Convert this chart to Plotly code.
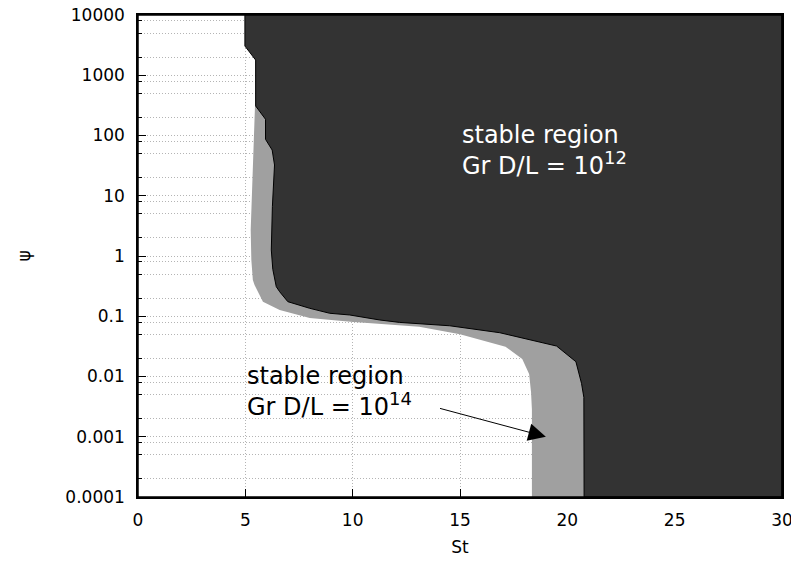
import math
import plotly.graph_objects as go

# Boundary of the stable region for Gr D/L = 1e12 (dark)
dark_st = [4.98, 4.98, 5.48, 5.48, 5.94, 5.94, 6.25, 6.36, 6.26, 6.21, 6.28, 6.44, 6.6, 6.98,
           8.0, 8.93, 9.86, 11.26, 12.19, 14.52, 16.85, 19.5, 20.4, 20.66, 20.77, 20.78, 30, 30]
dark_psi = [10000, 3055, 1790, 309, 186, 86.5, 57.4, 32.4, 6.6, 1.26, 0.6, 0.31, 0.255, 0.1745,
            0.1355, 0.112, 0.105, 0.0867, 0.079, 0.0695, 0.0533, 0.032, 0.0176, 0.0077, 0.0045, 0.0001, 0.0001, 10000]

# Boundary of the stable region for Gr D/L = 1e14 (grey)
gray_st = [5.45, 5.38, 5.30, 5.25, 5.28, 5.35, 5.43, 5.82, 6.6, 7.06, 8.0, 9.9, 12.19, 13.1, 15.0,
           17.12, 17.9, 18.22, 18.31, 18.35, 18.35, 30, 30]
gray_psi = [309, 57.4, 8.5, 2.7, 0.86, 0.40, 0.33, 0.174, 0.127, 0.115, 0.0935, 0.081, 0.0715, 0.067, 0.0505,
            0.0313, 0.0195, 0.011, 0.0055, 0.0028, 0.0001, 0.0001, 309]

x_ticks = [0, 5, 10, 15, 20, 25, 30]
y_ticks = [1e-4, 1e-3, 1e-2, 1e-1, 1, 10, 100, 1000, 10000]
y_tick_labels = ["0.0001", "0.001", "0.01", "0.1", "1", "10", "100", "1000", "10000"]
y_minor = [m * 10.0 ** e for e in range(-4, 4) for m in (2, 5, 8)]

FONT = "DejaVu Sans"
GRID = "#b4b4b4"
DASH = "1px,2px"
SUP = "<sup><span style='font-size:18px'>{}</span></sup>"

fig = go.Figure()
fig.add_trace(go.Scatter(x=gray_st, y=gray_psi, mode="lines", fill="toself",
                         fillcolor="#a0a0a0", line=dict(width=0, color="#a0a0a0"),
                         hoverinfo="skip", showlegend=False))
fig.add_trace(go.Scatter(x=dark_st, y=dark_psi, mode="lines", fill="toself",
                         fillcolor="#333333", line=dict(width=1, color="black"),
                         hoverinfo="skip", showlegend=False))

fig.add_annotation(x=15, y=math.log10(57), xref="x", yref="y", xanchor="left", yanchor="middle",
                   text="stable region<br>Gr D/L = 10" + SUP.format("12"), showarrow=False, align="left",
                   font=dict(family=FONT, size=24, color="white"))
fig.add_annotation(x=4.97, y=-2.257, xref="x", yref="y", xanchor="left", yanchor="middle",
                   text="stable region<br>Gr D/L = 10" + SUP.format("14"), showarrow=False, align="left",
                   font=dict(family=FONT, size=24, color="black"))
fig.add_annotation(x=19, y=-3, ax=14, ay=math.log10(0.003), xref="x", yref="y", axref="x", ayref="y",
                   text="", showarrow=True, arrowhead=2, arrowsize=3.5, arrowwidth=1, arrowcolor="black")

fig.add_shape(type="rect", xref="paper", yref="paper", x0=0, y0=0, x1=1, y1=1,
              line=dict(color="black", width=1.5), layer="above")

fig.update_layout(
    width=791, height=557,
    margin=dict(l=130, r=17, t=7, b=68),
    plot_bgcolor="white", paper_bgcolor="white",
    font=dict(family=FONT, size=17, color="black"),
    showlegend=False,
    xaxis=dict(range=[0, 30], tickvals=x_ticks, ticks="inside", ticklen=8, tickcolor="black",
               showline=True, linecolor="black", linewidth=1.5, mirror="ticks", automargin=False,
               ticklabelstandoff=7, ticklabeloverflow="allow",
               showgrid=True, gridcolor=GRID, griddash=DASH, gridwidth=1, zeroline=False,
               layer="below traces", title=dict(text="St", font=dict(size=17), standoff=12)),
    yaxis=dict(type="log", range=[-4, 4], tickvals=y_ticks, ticktext=y_tick_labels,
               ticks="inside", ticklen=8, tickcolor="black", automargin=False,
               ticklabelstandoff=8, ticklabeloverflow="allow",
               showline=True, linecolor="black", linewidth=1.5, mirror="ticks",
               showgrid=True, gridcolor=GRID, griddash=DASH, gridwidth=1, zeroline=False,
               layer="below traces",
               minor=dict(tickmode="array", tickvals=y_minor, ticks="inside", ticklen=4,
                          tickcolor="black", showgrid=True, gridcolor=GRID, griddash=DASH, gridwidth=1),
               title=dict(text="ψ", font=dict(size=17), standoff=30)),
)

fig.write_html("out.html")
